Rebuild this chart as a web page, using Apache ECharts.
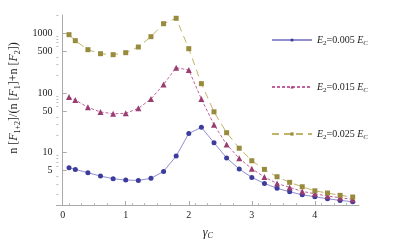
<!DOCTYPE html>
<html><head><meta charset="utf-8">
<script src="https://cdn.jsdelivr.net/npm/echarts@6/dist/echarts.min.js"></script>
<style>html,body{margin:0;padding:0;background:#fff}#c{width:415px;height:249px}</style>
</head><body><div id="c"></div>
<script>
const gammaC = [0.1,0.2,0.4,0.6,0.8,1.0,1.2,1.4,1.6,1.8,2.0,2.2,2.4,2.6,2.8,3.0,3.2,3.4,3.6,3.8,4.0,4.2,4.4,4.6];
const e005 = [5.6,5.26,4.62,4.07,3.66,3.48,3.44,3.72,4.87,8.8,21.1,26.7,14.7,8.2,5.33,3.86,3.06,2.53,2.22,1.97,1.83,1.69,1.59,1.51];
const e015 = [86,76.6,57.8,48.2,45.1,45.8,55.6,79.6,140,267,244,79.5,29.5,13.8,8.05,5.4,3.91,3.06,2.62,2.25,2.05,1.88,1.76,1.65];
const e025 = [955,757,535,458,441,476,593,884,1457,1797,556,144,48.6,21.7,11.9,7.34,5.26,3.96,3.19,2.69,2.3,2.11,1.93,1.81];
const seriesNames = ['0.005','0.015','0.025'];
const yLabelTicks = [5,10,50,100,500,1000];
const yMinorTicks = [2,3,4,6,7,8,9,20,30,40,60,70,80,90,200,300,400,600,700,800,900,2000];
const xTicks = [0,1,2,3,4];

const serif = '"Liberation Serif","DejaVu Serif",serif';
const pair = (xs, ys) => xs.map((x,i)=>[x, ys[i]]);
const styles = [
  {line:'#8f8fd0', mark:'#3c3c9c', symbol:'circle', size:5, type:'solid'},
  {line:'#c0629a', mark:'#993d71', symbol:'triangle', size:6, type:[3,2]},
  {line:'#c2b466', mark:'#998b3d', symbol:'rect', size:5, type:[7,5]}
];
const datas = [e005, e015, e025];
const series = seriesNames.map((n,i)=>({
  name:n, type:'line', data:pair(gammaC, datas[i]),
  symbol:styles[i].symbol, symbolSize:styles[i].size,
  lineStyle:{color:styles[i].line, width:1, type:styles[i].type},
  itemStyle:{color:styles[i].mark},
  animation:false
}));
const chart = echarts.init(document.getElementById('c'), null, {renderer:'canvas'});
const mk = (fs, lh) => ({
  i:{fontFamily:serif, fontStyle:'italic', fontSize:fs, color:'#222', lineHeight:lh},
  n:{fontFamily:serif, fontSize:fs, color:'#222', lineHeight:lh},
  s:{fontFamily:serif, fontStyle:'italic', fontSize:Math.round(fs*0.7), color:'#222', verticalAlign:'bottom', lineHeight:lh},
  s2:{fontFamily:serif, fontSize:Math.round(fs*0.7), color:'#222', verticalAlign:'bottom', lineHeight:lh}
});
chart.setOption({
  backgroundColor:'#fff',
  animation:false,
  grid:{left:50, top:15, width:309, height:190, containLabel:false},
  legend:{
    orient:'vertical', left:271, top:35, itemWidth:40, itemHeight:4, itemGap:35, padding:0,
    data:seriesNames,
    formatter: n => '{i|E}{s2|2}{n|=' + n + ' }{i|E}{s|C}',
    textStyle:{rich:mk(10,14)}
  },
  xAxis:{
    type:'value', min:-0.1, max:4.7, interval:1,
    axisLine:{lineStyle:{color:'#aaa', width:1}},
    axisTick:{inside:true, length:4, lineStyle:{color:'#aaa'}, customValues:xTicks},
    minorTick:{show:true, splitNumber:5, length:2, lineStyle:{color:'#bbb'}},
    splitLine:{show:false},
    axisLabel:{customValues:xTicks, fontFamily:serif, fontSize:10, color:'#222', margin:5},
    name:'{i|γ}{s|C}', nameLocation:'middle', nameGap:20,
    nameTextStyle:{rich:mk(12,15)}
  },
  yAxis:[{
    type:'log', min:1.33, max:2040,
    axisLine:{show:true, lineStyle:{color:'#aaa', width:1}},
    axisTick:{show:true, inside:true, length:4, lineStyle:{color:'#aaa'}, customValues:yLabelTicks},
    splitLine:{show:false},
    axisLabel:{customValues:yLabelTicks, fontFamily:serif, fontSize:10, color:'#222', margin:4,
      formatter: v => String(Math.round(v))},
    name:'{n|n [}{i|F}{s2|1+2}{n|]/(n [}{i|F}{s2|1}{n|]+n [}{i|F}{s2|2}{n|])}',
    nameLocation:'middle', nameGap:28, nameRotate:90,
    nameTextStyle:{rich:mk(12,15), padding:[0,0,0,24]}
  },{
    type:'log', min:1.33, max:2040, position:'left',
    axisLine:{show:false},
    axisTick:{show:true, inside:true, length:2, lineStyle:{color:'#bbb'}, customValues:yMinorTicks},
    axisLabel:{show:false}, splitLine:{show:false}
  }],
  series:series
});
</script></body></html>
